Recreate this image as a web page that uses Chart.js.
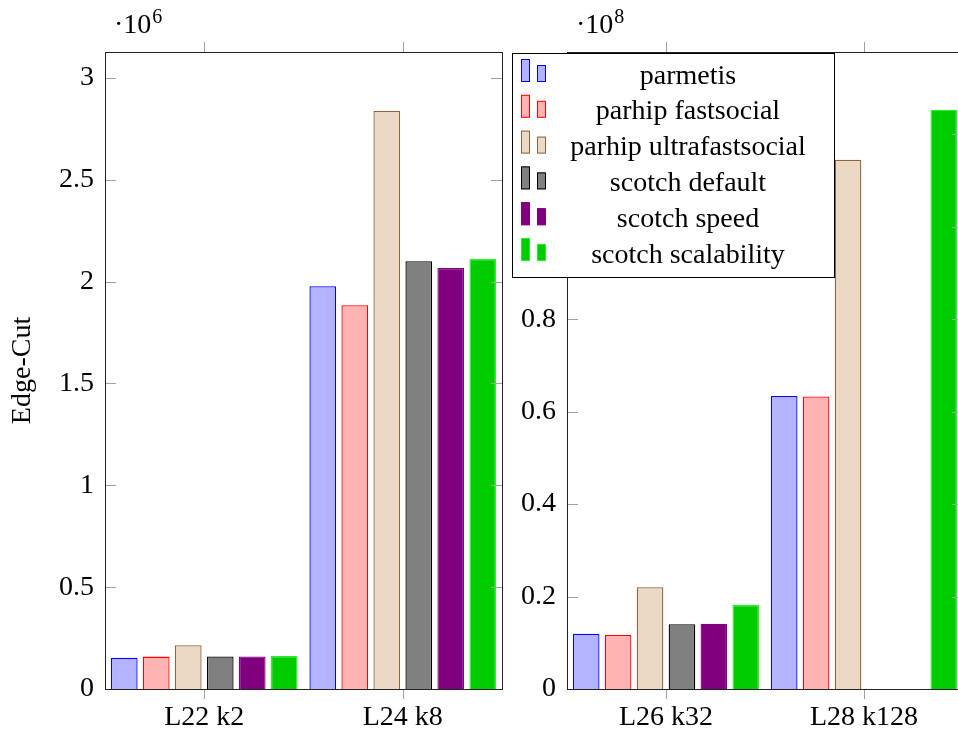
<!DOCTYPE html>
<html>
<head>
<meta charset="utf-8">
<script src="https://cdn.jsdelivr.net/npm/chart.js@4.4.1/dist/chart.umd.min.js"></script>
<style>
  html, body { margin: 0; padding: 0; background: #fff; width: 958px; height: 735px; overflow: hidden; }
  #wrapL { position: absolute; left: 0; top: 0; width: 506px; height: 735px; }
  #wrapR { position: absolute; left: 505px; top: 0; width: 470px; height: 735px; }
</style>
</head>
<body>
<div id="wrapL"><canvas id="cL" width="506" height="735"></canvas></div>
<div id="wrapR"><canvas id="cR" width="470" height="735"></canvas></div>
<script>
// ---- data ----
const seriesNames = ["parmetis", "parhip fastsocial", "parhip ultrafastsocial", "scotch default", "scotch speed", "scotch scalability"];
const leftCategories = ["L22 k2", "L24 k8"];
const rightCategories = ["L26 k32", "L28 k128"];
// values per series: [first category, second category]
const parmetisLeft = [154000, 1977000];
const fastsocialLeft = [159000, 1884000];
const ultrafastLeft = [215000, 2839000];
const scotchDefaultLeft = [160000, 2100000];
const scotchSpeedLeft = [160000, 2067000];
const scotchScalLeft = [162000, 2111000];

const parmetisRight = [11960000, 63400000];
const fastsocialRight = [11700000, 63300000];
const ultrafastRight = [22000000, 114500000];
const scotchDefaultRight = [14000000, null];
const scotchSpeedRight = [14100000, null];
const scotchScalRight = [18200000, 125300000];

// y tick labels (in units of the exponent shown above each panel)
const leftTickLabels = [0, 0.5, 1, 1.5, 2, 2.5, 3];
const rightTickLabels = [0, 0.2, 0.4, 0.6, 0.8, 1, 1.2];
const leftExponent = "6";
const rightExponent = "8";
const yTitle = "Edge-Cut";

// ---- styles ----
const fills = ["rgb(179,179,255)", "rgb(255,179,179)", "rgb(235,217,198)", "rgb(128,128,128)", "rgb(128,0,128)", "rgb(0,204,0)"];
const strokes = ["rgb(0,0,255)", "rgb(255,0,0)", "rgb(140,100,62)", "rgb(0,0,0)", "rgb(128,0,128)", "rgb(40,240,40)"];
const FONT = "'Liberation Serif', 'Times New Roman', serif";
const FS = 28;

function makeDatasets(arrs) {
  return arrs.map((d, i) => ({
    label: seriesNames[i],
    data: d,
    backgroundColor: fills[i],
    borderColor: strokes[i],
    borderWidth: 1.3,
    borderSkipped: 'bottom',
    categoryPercentage: 0.967,
    barPercentage: 0.834
  }));
}

const framePlugin = {
  id: 'frame',
  afterDatasetsDraw(chart, args, opts) {
    const ctx = chart.ctx;
    const a = chart.chartArea;
    const ys = chart.scales.y, xs = chart.scales.x;
    ctx.save();
    ctx.strokeStyle = '#a0a0a0';
    ctx.lineWidth = 1;
    ctx.beginPath();
    ys.ticks.forEach(t => {
      const py = Math.round(ys.getPixelForValue(t.value)) + 0.5;
      if (t.value === 0) return;
      ctx.moveTo(a.left, py); ctx.lineTo(a.left + 11, py);
      ctx.moveTo(a.right, py); ctx.lineTo(a.right - 11, py);
    });
    xs.ticks.forEach((t, i) => {
      const px = Math.round(xs.getPixelForTick(i)) + 0.5;
      ctx.moveTo(px, a.top); ctx.lineTo(px, a.top - 10);
      ctx.moveTo(px, a.bottom); ctx.lineTo(px, a.bottom + 10);
    });
    ctx.stroke();
    ctx.strokeStyle = '#222';
    ctx.strokeRect(Math.round(a.left) + 0.5, Math.round(a.top) + 0.5, Math.round(a.right - a.left), Math.round(a.bottom - a.top));
    ctx.fillStyle = '#000';
    ctx.textBaseline = 'alphabetic';
    ctx.textAlign = 'left';
    ctx.font = FS + 'px ' + FONT;
    const ex = a.left + opts.dx;
    ctx.fillText('\u00B710', ex, 33);
    const w = ctx.measureText('\u00B710').width;
    ctx.font = '20px ' + FONT;
    ctx.fillText(opts.exp, ex + w + 1, 23);
    ctx.restore();
  }
};

const legendPlugin = {
  id: 'customLegend',
  afterDraw(chart, args, opts) {
    if (!opts.show) return;
    const ctx = chart.ctx;
    const off = opts.offset;
    const bx = 512.5 - off, by = 53.5, bw = 322, bh = 224;
    ctx.save();
    ctx.fillStyle = '#fff';
    ctx.fillRect(bx, by, bw, bh);
    ctx.strokeStyle = '#000';
    ctx.lineWidth = 1;
    ctx.strokeRect(bx, by, bw, bh);
    chart.data.datasets.forEach((ds, i) => {
      const bottom = 82 + 35.8 * i;
      ctx.fillStyle = ds.backgroundColor;
      ctx.strokeStyle = ds.borderColor;
      ctx.fillRect(521 - off, bottom - 23, 8, 23);
      ctx.strokeRect(521.5 - off, bottom - 22.5, 8, 22);
      ctx.fillRect(537 - off, bottom - 17, 8, 17);
      ctx.strokeRect(537.5 - off, bottom - 16.5, 8, 16);
      ctx.fillStyle = '#000';
      ctx.font = FS + 'px ' + FONT;
      ctx.textAlign = 'center';
      ctx.textBaseline = 'alphabetic';
      ctx.fillText(ds.label, 688 - off, bottom + 1.5);
    });
    ctx.restore();
  }
};

const titlePlugin = {
  id: 'ytitle',
  afterDraw(chart, args, opts) {
    if (!opts.show) return;
    const ctx = chart.ctx;
    const a = chart.chartArea;
    ctx.save();
    ctx.translate(23, (a.top + a.bottom) / 2);
    ctx.rotate(-Math.PI / 2);
    ctx.fillStyle = '#000';
    ctx.font = FS + 'px ' + FONT;
    ctx.textAlign = 'center';
    ctx.textBaseline = 'middle';
    ctx.fillText(yTitle, 0, 0);
    ctx.restore();
  }
};

function makeOptions(yMax, tickLabels, div, yWidth, padRight, exp, showLegend, showTitle, offset, dx) {
  return {
    responsive: false,
    animation: false,
    layout: { padding: { top: 52, right: padRight, left: 0, bottom: 0 } },
    plugins: {
      legend: { display: false },
      tooltip: { enabled: false },
      frame: { exp: exp, dx: dx },
      customLegend: { show: showLegend, offset: offset },
      ytitle: { show: showTitle }
    },
    scales: {
      x: {
        grid: { display: false, drawTicks: false },
        border: { display: false },
        ticks: { color: '#000', font: { family: FONT, size: FS }, padding: 12, maxRotation: 0 },
        afterFit(s) { s.height = 46; }
      },
      y: {
        min: 0, max: yMax,
        grid: { display: false, drawTicks: false },
        border: { display: false },
        afterBuildTicks(s) { s.ticks = tickLabels.map(t => ({ value: t * div })); },
        ticks: {
          color: '#000', padding: 11,
          font: { family: FONT, size: FS },
          callback: v => String(parseFloat((v / div).toFixed(3)))
        },
        afterFit(s) { s.width = yWidth; }
      }
    }
  };
}

Chart.register(framePlugin, legendPlugin, titlePlugin);

new Chart(document.getElementById('cL'), {
  type: 'bar',
  data: {
    labels: leftCategories,
    datasets: makeDatasets([parmetisLeft, fastsocialLeft, ultrafastLeft, scotchDefaultLeft, scotchSpeedLeft, scotchScalLeft])
  },
  options: makeOptions(3127000, leftTickLabels, 1e6, 105, 4, leftExponent, false, true, 0, 9)
});

new Chart(document.getElementById('cR'), {
  type: 'bar',
  data: {
    labels: rightCategories,
    datasets: makeDatasets([parmetisRight, fastsocialRight, ultrafastRight, scotchDefaultRight, scotchSpeedRight, scotchScalRight])
  },
  options: makeOptions(137800000, rightTickLabels, 1e8, 62, 12, rightExponent, true, false, 505, 9)
});
</script>
</body>
</html>
